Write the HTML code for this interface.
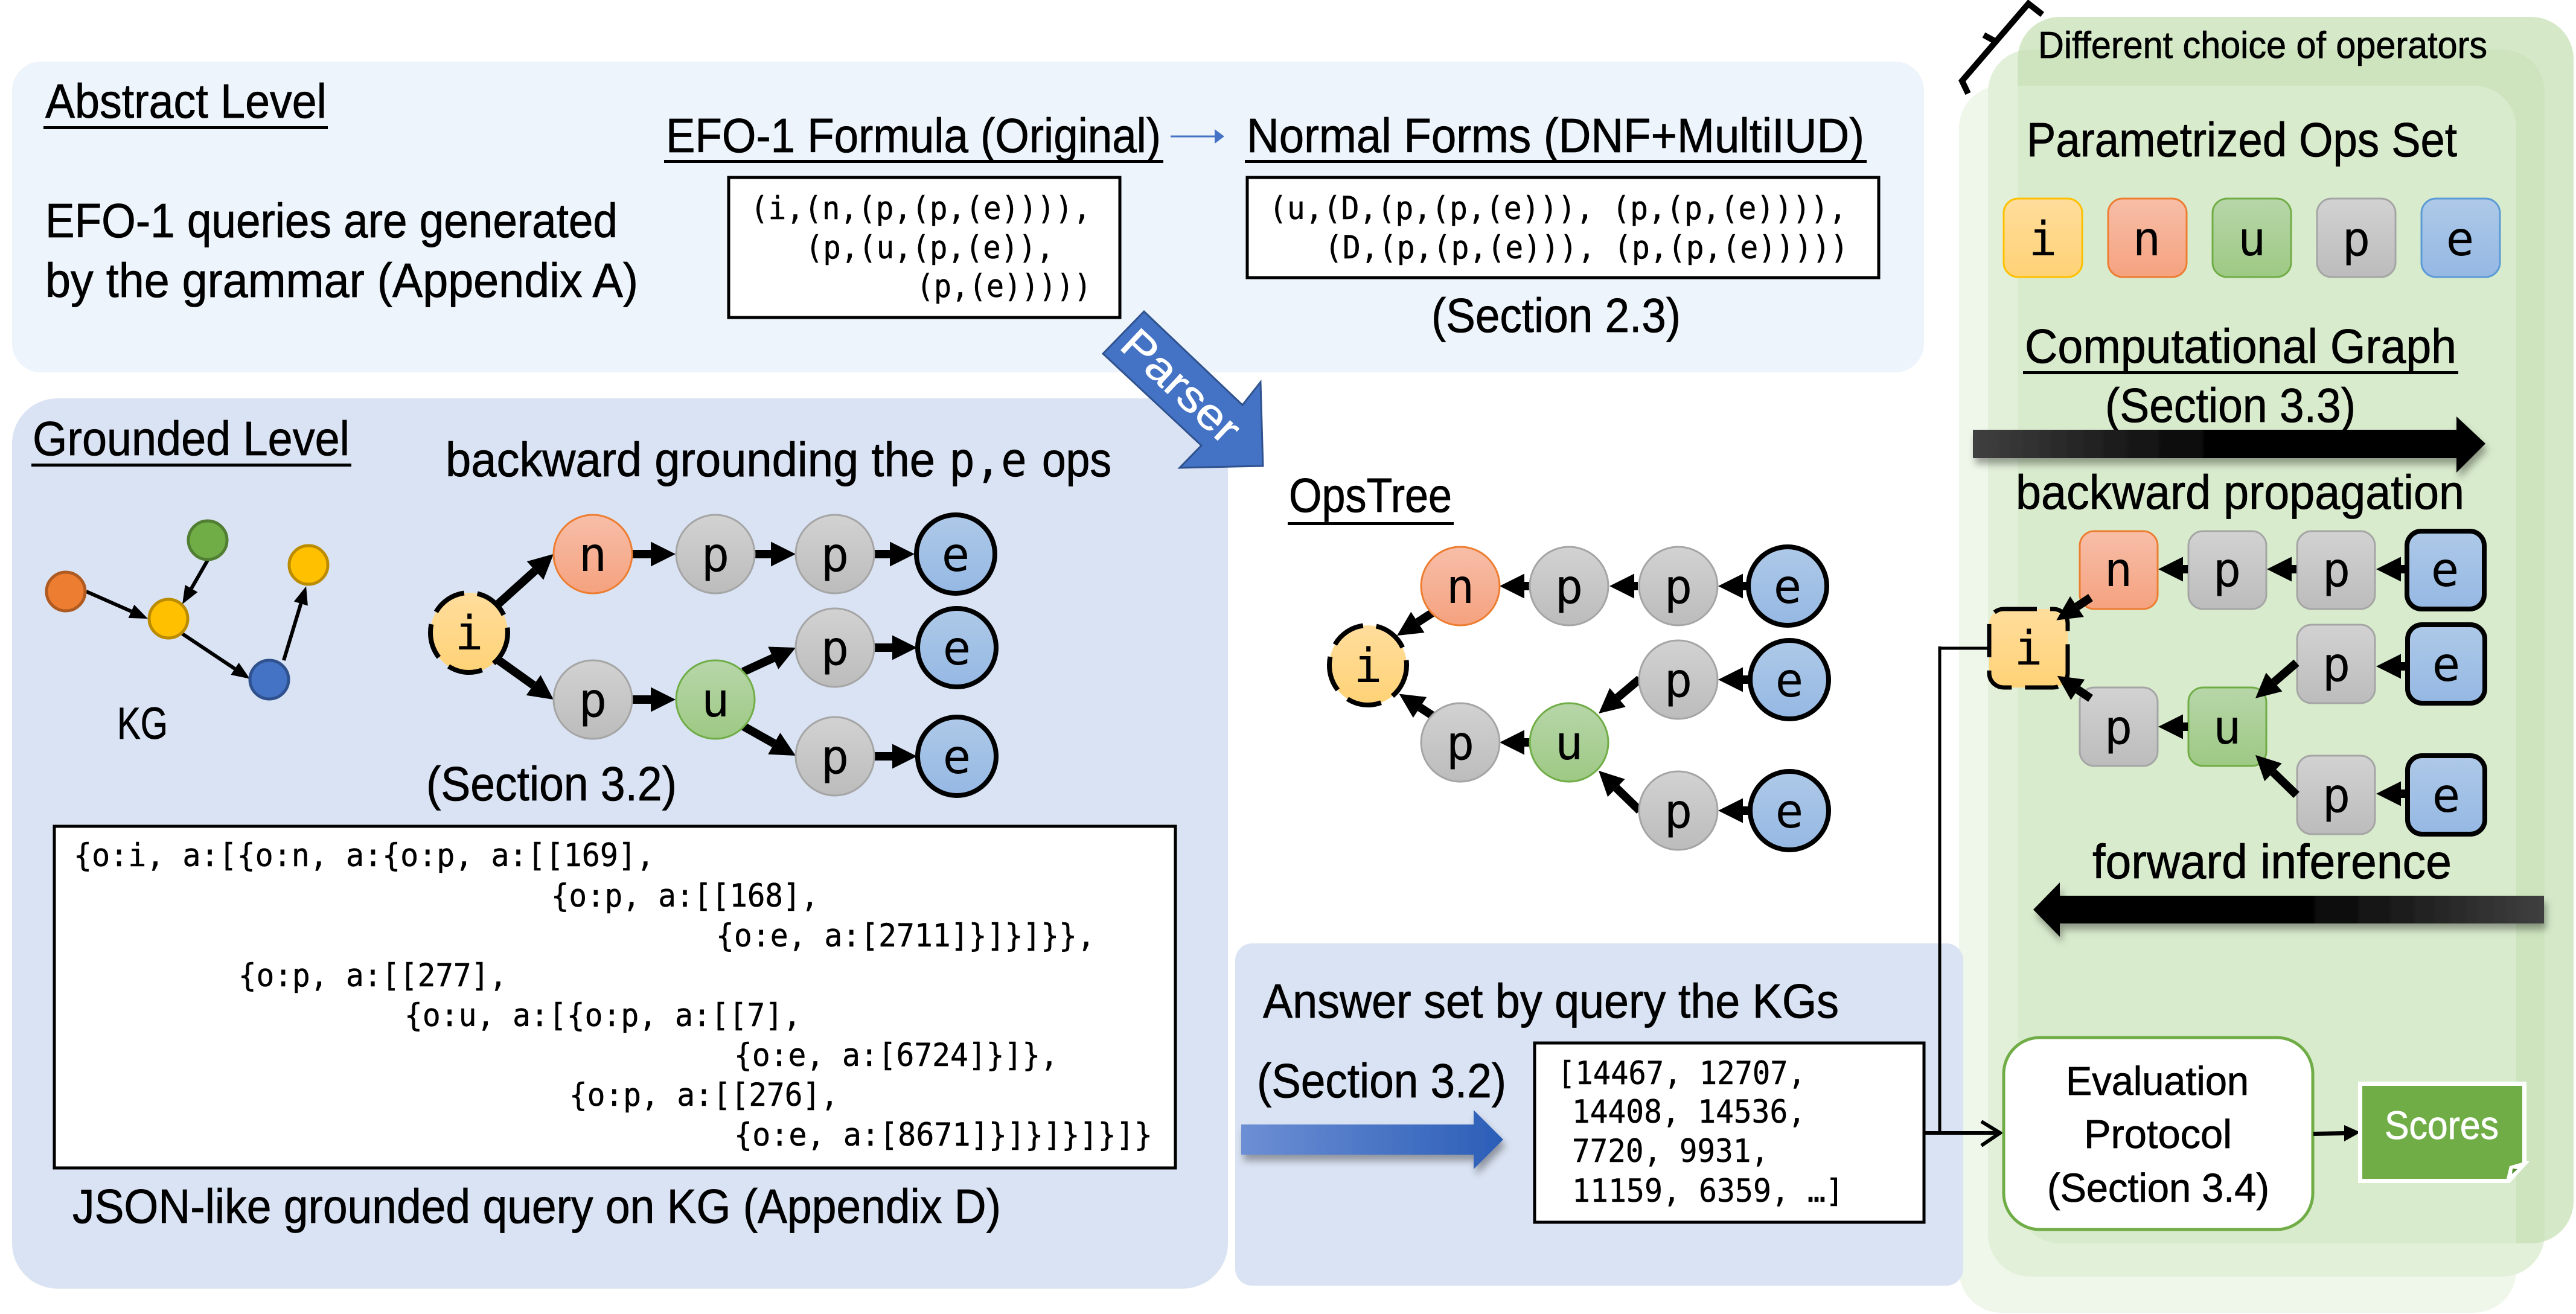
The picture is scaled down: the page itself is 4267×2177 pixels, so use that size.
<!DOCTYPE html>
<html>
<head>
<meta charset="utf-8">
<title>Diagram</title>
<style>
html,body{margin:0;padding:0;background:#fff;}
svg{display:block;}
.s{font-family:"Liberation Sans",sans-serif;font-size:80px;fill:#000;stroke:#000;stroke-width:0.8px;}
.m{font-family:"DejaVu Sans Mono","Liberation Mono",monospace;font-size:53px;fill:#000;stroke:#000;stroke-width:0.5px;}
.o{font-family:"DejaVu Sans Mono","Liberation Mono",monospace;font-size:78px;fill:#000;text-anchor:middle;}
.a{stroke:#000;stroke-width:14;fill:none;marker-end:url(#big);}
.k{stroke:#000;stroke-width:6;fill:none;marker-end:url(#small);}
.ee{fill:url(#gE);stroke:#000;stroke-width:8;}
.ep{fill:url(#gP);stroke:#a5a5a5;stroke-width:3;}
.en{fill:url(#gN);stroke:#ed7d31;stroke-width:3;}
.eu{fill:url(#gU);stroke:#70ad47;stroke-width:3;}
.ei{fill:url(#gI);stroke:#000;stroke-width:8;stroke-dasharray:58 22;}
</style>
</head>
<body>
<svg xmlns="http://www.w3.org/2000/svg" width="4267" height="2177" viewBox="0 0 4267 2177">
<defs>
<linearGradient id="gI" x1="0" y1="0" x2="0" y2="1"><stop offset="0" stop-color="#ffdd9c"/><stop offset="1" stop-color="#ffd276"/></linearGradient>
<linearGradient id="gN" x1="0" y1="0" x2="0" y2="1"><stop offset="0" stop-color="#f7bea8"/><stop offset="1" stop-color="#f5a27f"/></linearGradient>
<linearGradient id="gU" x1="0" y1="0" x2="0" y2="1"><stop offset="0" stop-color="#b7d6a9"/><stop offset="1" stop-color="#9ec984"/></linearGradient>
<linearGradient id="gP" x1="0" y1="0" x2="0" y2="1"><stop offset="0" stop-color="#d2d2d2"/><stop offset="1" stop-color="#bcbcbc"/></linearGradient>
<linearGradient id="gE" x1="0" y1="0" x2="0" y2="1"><stop offset="0" stop-color="#aec9e8"/><stop offset="1" stop-color="#95b8e3"/></linearGradient>
<linearGradient id="gK1" x1="0" y1="0" x2="1" y2="0"><stop offset="0" stop-color="#404040"/><stop offset="0.5" stop-color="#000"/><stop offset="1" stop-color="#000"/></linearGradient>
<linearGradient id="gK2" x1="0" y1="0" x2="1" y2="0"><stop offset="0" stop-color="#000"/><stop offset="0.5" stop-color="#000"/><stop offset="1" stop-color="#404040"/></linearGradient>
<linearGradient id="gB" x1="0" y1="0" x2="1" y2="0"><stop offset="0" stop-color="#6d8fd4"/><stop offset="1" stop-color="#2b5eb8"/></linearGradient>
<filter id="sh" x="-5%" y="-30%" width="110%" height="170%"><feDropShadow dx="4" dy="10" stdDeviation="6" flood-color="#000" flood-opacity="0.35"/></filter>
<marker id="big" markerUnits="userSpaceOnUse" markerWidth="42" markerHeight="42" refX="0" refY="21" orient="auto" overflow="visible"><path d="M0,0.5 L41,21 L0,41.5 z" fill="#000"/></marker>
<marker id="small" markerUnits="userSpaceOnUse" markerWidth="31" markerHeight="26" refX="0" refY="13" orient="auto" overflow="visible"><path d="M0,1 L30,13 L0,25 z" fill="#000"/></marker>
</defs>

<rect width="4267" height="2177" fill="#fff"/>

<!-- Green stacked panels -->
<rect x="3342" y="28" width="921" height="2032" rx="70" ry="70" fill="#c5e0b4" fill-opacity="0.72"/>
<rect x="3293" y="82" width="922" height="2033" rx="70" ry="70" fill="#c5e0b4" fill-opacity="0.5"/>
<rect x="3245" y="142" width="923" height="2033" rx="70" ry="70" fill="#e2f0d9" fill-opacity="0.56"/>

<!-- Brace -->
<path d="M3383,24 L3360,6 L3250,134 L3260,155" fill="none" stroke="#000" stroke-width="10"/>
<path d="M3308,70 L3286,58" fill="none" stroke="#000" stroke-width="10"/>

<!-- Left panels -->
<rect x="20" y="102" width="3167" height="515" rx="48" ry="48" fill="#edf4fb"/>
<rect x="20" y="660" width="2014" height="1475" rx="75" ry="75" fill="#dae3f3"/>
<rect x="2046" y="1563" width="1206" height="567" rx="28" ry="28" fill="#dae3f3"/>

<!-- Abstract Level -->
<text class="s" x="75" y="195" textLength="466" lengthAdjust="spacingAndGlyphs">Abstract Level</text>
<rect x="72" y="209" width="471" height="5"/>
<text class="s" x="75" y="393" textLength="948" lengthAdjust="spacingAndGlyphs">EFO-1 queries are generated</text>
<text class="s" x="75" y="492" textLength="982" lengthAdjust="spacingAndGlyphs">by the grammar (Appendix A)</text>
<text class="s" x="1103" y="252" textLength="820" lengthAdjust="spacingAndGlyphs">EFO-1 Formula (Original)</text>
<rect x="1100" y="265" width="827" height="5"/>
<path d="M1939,226 H2012" stroke="#4472c4" stroke-width="3" fill="none"/>
<path d="M2012,214 L2028,226 L2012,238 z" fill="#4472c4"/>
<text class="s" x="2065" y="252" textLength="1023" lengthAdjust="spacingAndGlyphs">Normal Forms (DNF+MultiIUD)</text>
<rect x="2062" y="265" width="1030" height="5"/>

<rect x="1207" y="294" width="648" height="232" fill="#fff" stroke="#000" stroke-width="5"/>
<text class="m" x="1243" y="363" textLength="564" lengthAdjust="spacingAndGlyphs">(i,(n,(p,(p,(e)))),</text>
<text class="m" x="1334" y="428" textLength="412" lengthAdjust="spacingAndGlyphs">(p,(u,(p,(e)),</text>
<text class="m" x="1518" y="492" textLength="290" lengthAdjust="spacingAndGlyphs">(p,(e)))))</text>

<rect x="2066" y="294" width="1046" height="166" fill="#fff" stroke="#000" stroke-width="5"/>
<text class="m" x="2102" y="363" textLength="957" lengthAdjust="spacingAndGlyphs" xml:space="preserve">(u,(D,(p,(p,(e))), (p,(p,(e)))),</text>
<text class="m" x="2194" y="428" textLength="868" lengthAdjust="spacingAndGlyphs" xml:space="preserve">(D,(p,(p,(e))), (p,(p,(e)))))</text>
<text class="s" x="2371" y="550" textLength="413" lengthAdjust="spacingAndGlyphs">(Section 2.3)</text>

<!-- Grounded Level -->
<text class="s" x="54" y="754" textLength="525" lengthAdjust="spacingAndGlyphs">Grounded Level</text>
<rect x="52" y="768" width="530" height="5"/>
<text class="s" x="738" y="789" textLength="811" lengthAdjust="spacingAndGlyphs">backward grounding the</text>
<text class="m" style="font-size:78px" x="1572" y="789" textLength="129" lengthAdjust="spacingAndGlyphs">p,e</text>
<text class="s" x="1726" y="789" textLength="115" lengthAdjust="spacingAndGlyphs">ops</text>

<!-- KG -->
<line class="k" x1="143" y1="980" x2="217.5" y2="1012.9"/>
<line class="k" x1="344" y1="928" x2="317" y2="975"/>
<line class="k" x1="302" y1="1050" x2="389" y2="1108"/>
<line class="k" x1="470" y1="1094" x2="498.4" y2="1000"/>
<circle cx="109" cy="980" r="32" fill="#ed7d31" stroke="#ae5a21" stroke-width="5"/>
<circle cx="344" cy="895" r="32" fill="#70ad47" stroke="#507e32" stroke-width="5"/>
<circle cx="511" cy="936" r="32" fill="#ffc000" stroke="#bc8c00" stroke-width="5"/>
<circle cx="279" cy="1025" r="32" fill="#ffc000" stroke="#bc8c00" stroke-width="5"/>
<circle cx="446" cy="1126" r="32" fill="#4472c4" stroke="#2f528f" stroke-width="5"/>
<text class="s" style="font-size:74px" x="194" y="1224" textLength="84" lengthAdjust="spacingAndGlyphs">KG</text>

<!-- Tree 1 -->
<line class="a" x1="826" y1="1000" x2="886.5" y2="945.4"/>
<line class="a" x1="826" y1="1094" x2="883.6" y2="1135.2"/>
<line class="a" x1="1047" y1="918" x2="1078" y2="918"/>
<line class="a" x1="1250" y1="918" x2="1277" y2="918"/>
<line class="a" x1="1449" y1="918" x2="1474" y2="918"/>
<line class="a" x1="1047" y1="1159" x2="1078" y2="1159"/>
<line class="a" x1="1231" y1="1113" x2="1280.8" y2="1090.1"/>
<line class="a" x1="1231" y1="1203" x2="1282.3" y2="1231.9"/>
<line class="a" x1="1449" y1="1073" x2="1478" y2="1073"/>
<line class="a" x1="1449" y1="1253" x2="1478" y2="1253"/>
<ellipse class="ei" cx="777" cy="1048" rx="64" ry="66"/>
<ellipse class="en" cx="982" cy="918" rx="65" ry="65"/>
<ellipse class="ep" cx="1185" cy="918" rx="65" ry="65"/>
<ellipse class="ep" cx="1383" cy="918" rx="65" ry="65"/>
<ellipse class="ee" cx="1583" cy="918" rx="65" ry="65"/>
<ellipse class="ep" cx="982" cy="1159" rx="65" ry="65"/>
<ellipse class="eu" cx="1185" cy="1159" rx="65" ry="65"/>
<ellipse class="ep" cx="1383" cy="1073" rx="65" ry="65"/>
<ellipse class="ee" cx="1585" cy="1073" rx="65" ry="65"/>
<ellipse class="ep" cx="1383" cy="1253" rx="65" ry="65"/>
<ellipse class="ee" cx="1585" cy="1253" rx="65" ry="65"/>
<text class="o" x="777" y="1076">i</text>
<text class="o" x="982" y="946">n</text>
<text class="o" x="1185" y="946">p</text>
<text class="o" x="1383" y="946">p</text>
<text class="o" x="1583" y="946">e</text>
<text class="o" x="982" y="1187">p</text>
<text class="o" x="1185" y="1187">u</text>
<text class="o" x="1383" y="1101">p</text>
<text class="o" x="1585" y="1101">e</text>
<text class="o" x="1383" y="1281">p</text>
<text class="o" x="1585" y="1281">e</text>
<text class="s" x="706" y="1326" textLength="415" lengthAdjust="spacingAndGlyphs">(Section 3.2)</text>

<!-- JSON box -->
<rect x="90" y="1369" width="1857" height="566" fill="#fff" stroke="#000" stroke-width="5"/>
<text class="m" x="122" y="1435" textLength="962" lengthAdjust="spacingAndGlyphs">{o:i, a:[{o:n, a:{o:p, a:[[169],</text>
<text class="m" x="913" y="1502" textLength="443" lengthAdjust="spacingAndGlyphs">{o:p, a:[[168],</text>
<text class="m" x="1186" y="1568" textLength="628" lengthAdjust="spacingAndGlyphs">{o:e, a:[2711]}]}]}},</text>
<text class="m" x="395" y="1634" textLength="445" lengthAdjust="spacingAndGlyphs">{o:p, a:[[277],</text>
<text class="m" x="670" y="1700" textLength="657" lengthAdjust="spacingAndGlyphs">{o:u, a:[{o:p, a:[[7],</text>
<text class="m" x="1216" y="1766" textLength="537" lengthAdjust="spacingAndGlyphs">{o:e, a:[6724]}]},</text>
<text class="m" x="943" y="1832" textLength="446" lengthAdjust="spacingAndGlyphs">{o:p, a:[[276],</text>
<text class="m" x="1216" y="1898" textLength="693" lengthAdjust="spacingAndGlyphs">{o:e, a:[8671]}]}]}]}]}</text>
<text class="s" x="120" y="2026" textLength="1538" lengthAdjust="spacingAndGlyphs">JSON-like grounded query on KG (Appendix D)</text>

<!-- Parser arrow -->
<polygon points="1895,516 2058,671 2088,633 2092,772 1954,775 1990,738 1827,586" fill="#4472c4" stroke="#2f528f" stroke-width="3"/>
<text class="s" style="font-size:72px;fill:#fff;stroke:#fff" text-anchor="middle" transform="rotate(43 1956 640)" x="1956" y="664" textLength="240" lengthAdjust="spacingAndGlyphs">Parser</text>

<!-- OpsTree -->
<text class="s" x="2135" y="848" textLength="270" lengthAdjust="spacingAndGlyphs">OpsTree</text>
<rect x="2133" y="865" width="275" height="5"/>
<line class="a" x1="2534" y1="971" x2="2525" y2="971"/>
<line class="a" x1="2713" y1="971" x2="2707" y2="971"/>
<line class="a" x1="2893" y1="971" x2="2887" y2="971"/>
<line class="a" x1="2373" y1="1015" x2="2348.4" y2="1030.9"/>
<line class="a" x1="2375" y1="1187" x2="2352" y2="1172"/>
<line class="a" x1="2534" y1="1230" x2="2525" y2="1230"/>
<line class="a" x1="2716" y1="1125" x2="2679.6" y2="1155.6"/>
<line class="a" x1="2716" y1="1343" x2="2677.4" y2="1305.5"/>
<line class="a" x1="2900" y1="1126" x2="2887" y2="1126"/>
<line class="a" x1="2900" y1="1343" x2="2887" y2="1343"/>
<ellipse class="ei" cx="2266" cy="1102" rx="64" ry="66"/>
<ellipse class="en" cx="2419" cy="971" rx="65" ry="65"/>
<ellipse class="ep" cx="2599" cy="971" rx="65" ry="65"/>
<ellipse class="ep" cx="2780" cy="971" rx="65" ry="65"/>
<ellipse class="ee" cx="2961" cy="971" rx="65" ry="65"/>
<ellipse class="ep" cx="2419" cy="1230" rx="65" ry="65"/>
<ellipse class="eu" cx="2599" cy="1230" rx="65" ry="65"/>
<ellipse class="ep" cx="2780" cy="1126" rx="65" ry="65"/>
<ellipse class="ee" cx="2964" cy="1126" rx="65" ry="65"/>
<ellipse class="ep" cx="2780" cy="1343" rx="65" ry="65"/>
<ellipse class="ee" cx="2964" cy="1343" rx="65" ry="65"/>
<text class="o" x="2266" y="1130">i</text>
<text class="o" x="2419" y="999">n</text>
<text class="o" x="2599" y="999">p</text>
<text class="o" x="2780" y="999">p</text>
<text class="o" x="2961" y="999">e</text>
<text class="o" x="2419" y="1258">p</text>
<text class="o" x="2599" y="1258">u</text>
<text class="o" x="2780" y="1154">p</text>
<text class="o" x="2964" y="1154">e</text>
<text class="o" x="2780" y="1371">p</text>
<text class="o" x="2964" y="1371">e</text>

<!-- Answer set -->
<text class="s" x="2092" y="1686" textLength="954" lengthAdjust="spacingAndGlyphs">Answer set by query the KGs</text>
<text class="s" x="2082" y="1818" textLength="413" lengthAdjust="spacingAndGlyphs">(Section 3.2)</text>
<polygon points="2056,1863 2441,1863 2441,1839 2490,1888 2441,1937 2441,1913 2056,1913" fill="url(#gB)" filter="url(#sh)"/>
<rect x="2542" y="1728" width="645" height="297" fill="#fff" stroke="#000" stroke-width="5"/>
<text class="m" x="2580" y="1796" textLength="411" lengthAdjust="spacingAndGlyphs">[14467, 12707,</text>
<text class="m" x="2604" y="1860" textLength="387" lengthAdjust="spacingAndGlyphs">14408, 14536,</text>
<text class="m" x="2604" y="1925" textLength="326" lengthAdjust="spacingAndGlyphs">7720, 9931,</text>
<text class="m" x="2604" y="1991" textLength="450" lengthAdjust="spacingAndGlyphs">11159, 6359, …]</text>

<!-- Right panel -->
<text class="s" style="font-size:62px" x="3376" y="96" textLength="744" lengthAdjust="spacingAndGlyphs">Different choice of operators</text>
<text class="s" x="3357" y="259" textLength="713" lengthAdjust="spacingAndGlyphs">Parametrized Ops Set</text>

<rect x="3319" y="329" width="130" height="130" rx="24" ry="24" fill="url(#gI)" stroke="#ffc000" stroke-width="3"/>
<rect x="3492" y="329" width="130" height="130" rx="24" ry="24" fill="url(#gN)" stroke="#ed7d31" stroke-width="3"/>
<rect x="3665" y="329" width="130" height="130" rx="24" ry="24" fill="url(#gU)" stroke="#70ad47" stroke-width="3"/>
<rect x="3838" y="329" width="130" height="130" rx="24" ry="24" fill="url(#gP)" stroke="#a5a5a5" stroke-width="3"/>
<rect x="4011" y="329" width="130" height="130" rx="24" ry="24" fill="url(#gE)" stroke="#5b9bd5" stroke-width="3"/>
<text class="o" x="3384" y="423">i</text>
<text class="o" x="3556" y="423">n</text>
<text class="o" x="3730" y="423">u</text>
<text class="o" x="3903" y="423">p</text>
<text class="o" x="4075" y="423">e</text>

<text class="s" x="3354" y="601" textLength="715" lengthAdjust="spacingAndGlyphs">Computational Graph</text>
<rect x="3351" y="615" width="721" height="5"/>
<text class="s" x="3487" y="699" textLength="415" lengthAdjust="spacingAndGlyphs">(Section 3.3)</text>
<polygon points="3268,712 4069,712 4069,690 4117,735 4069,783 4069,759 3268,759" fill="url(#gK1)" filter="url(#sh)"/>
<text class="s" x="3339" y="843" textLength="743" lengthAdjust="spacingAndGlyphs">backward propagation</text>

<!-- connector lines -->
<path d="M3213,1074 H3297 M3213,1071 V1880" fill="none" stroke="#000" stroke-width="5"/>
<path d="M3189,1877 H3312" fill="none" stroke="#000" stroke-width="6"/>
<path d="M3282,1858 L3313,1877 L3282,1898" fill="none" stroke="#000" stroke-width="6"/>

<!-- Tree 3 -->
<rect x="3445" y="880" width="129" height="129" rx="24" ry="24" fill="url(#gN)" stroke="#ed7d31" stroke-width="3"/>
<rect x="3625" y="880" width="129" height="129" rx="24" ry="24" fill="url(#gP)" stroke="#a5a5a5" stroke-width="3"/>
<rect x="3805" y="880" width="129" height="129" rx="24" ry="24" fill="url(#gP)" stroke="#a5a5a5" stroke-width="3"/>
<rect x="3987" y="880" width="128" height="129" rx="24" ry="24" fill="url(#gE)" stroke="#000" stroke-width="8"/>
<rect x="3295" y="1009" width="130" height="130" rx="24" ry="24" fill="url(#gI)" stroke="#000" stroke-width="7" stroke-dasharray="55 22"/>
<rect x="3805" y="1035" width="129" height="130" rx="24" ry="24" fill="url(#gP)" stroke="#a5a5a5" stroke-width="3"/>
<rect x="3988" y="1035" width="128" height="130" rx="24" ry="24" fill="url(#gE)" stroke="#000" stroke-width="8"/>
<rect x="3445" y="1139" width="129" height="130" rx="24" ry="24" fill="url(#gP)" stroke="#a5a5a5" stroke-width="3"/>
<rect x="3625" y="1139" width="129" height="130" rx="24" ry="24" fill="url(#gU)" stroke="#70ad47" stroke-width="3"/>
<rect x="3805" y="1252" width="129" height="130" rx="24" ry="24" fill="url(#gP)" stroke="#a5a5a5" stroke-width="3"/>
<rect x="3988" y="1252" width="128" height="130" rx="24" ry="24" fill="url(#gE)" stroke="#000" stroke-width="8"/>
<text class="o" x="3360" y="1101">i</text>
<text class="o" x="3509" y="971">n</text>
<text class="o" x="3689" y="971">p</text>
<text class="o" x="3870" y="971">p</text>
<text class="o" x="4050" y="971">e</text>
<text class="o" x="3870" y="1128">p</text>
<text class="o" x="4052" y="1128">e</text>
<text class="o" x="3509" y="1232">p</text>
<text class="o" x="3689" y="1232">u</text>
<text class="o" x="3870" y="1345">p</text>
<text class="o" x="4052" y="1345">e</text>
<line class="a" x1="3624" y1="943" x2="3616" y2="943"/>
<line class="a" x1="3804" y1="943" x2="3796" y2="943"/>
<line class="a" x1="3986" y1="943" x2="3977" y2="943"/>
<line class="a" x1="3986" y1="1104" x2="3977" y2="1104"/>
<line class="a" x1="3624" y1="1204" x2="3616" y2="1204"/>
<line class="a" x1="3986" y1="1315" x2="3977" y2="1315"/>
<line class="a" x1="3463" y1="990" x2="3440.4" y2="1005"/>
<line class="a" x1="3463" y1="1157" x2="3441.8" y2="1142.7"/>
<line class="a" x1="3804" y1="1098" x2="3767" y2="1130"/>
<line class="a" x1="3804" y1="1317" x2="3765.4" y2="1279.5"/>

<text class="s" x="3466" y="1455" textLength="595" lengthAdjust="spacingAndGlyphs">forward inference</text>
<polygon points="3368,1507 3412,1462 3412,1484 4214,1484 4214,1530 3412,1530 3412,1552" fill="url(#gK2)" filter="url(#sh)"/>

<!-- Evaluation -->
<rect x="3319" y="1719" width="512" height="318" rx="60" ry="60" fill="#fff" stroke="#70ad47" stroke-width="5"/>
<text class="s" style="font-size:67px" x="3422" y="1814" textLength="303" lengthAdjust="spacingAndGlyphs">Evaluation</text>
<text class="s" style="font-size:67px" x="3452" y="1902" textLength="245" lengthAdjust="spacingAndGlyphs">Protocol</text>
<text class="s" style="font-size:67px" x="3391" y="1991" textLength="368" lengthAdjust="spacingAndGlyphs">(Section 3.4)</text>
<path d="M3832,1878.5 L3884,1877.5" stroke="#000" stroke-width="7" fill="none"/>
<path d="M3883,1864 L3910,1876 L3883,1891 z" fill="#000"/>

<!-- Scores -->
<polygon points="3906,1792 4185,1792 4185,1924 4190,1924 4157,1960 3906,1960" fill="#fff"/>
<polygon points="3913,1799 4178,1799 4178,1926 4157,1932 4152,1953 3913,1953" fill="#70ad47"/>
<polygon points="4162,1936 4170,1937 4161,1945" fill="#4f8a2c"/>
<text class="s" style="font-size:66px;fill:#fff;stroke:#fff" x="3950" y="1887" textLength="189" lengthAdjust="spacingAndGlyphs">Scores</text>
</svg>
</body>
</html>
